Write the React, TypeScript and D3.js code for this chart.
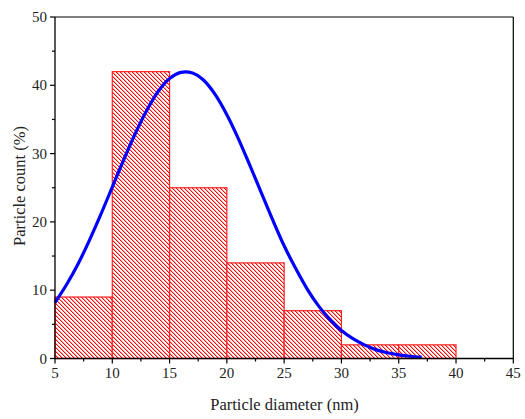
import React from "react";
import * as d3 from "d3";

const binStarts = [5, 10, 15, 20, 25, 30, 35];
const binWidth = 5;
const binCounts = [9, 42, 25, 14, 7, 2, 2];

const fitX = [5, 6, 7, 8, 9, 10, 11, 12, 13, 14, 15, 16, 17, 18, 19, 20, 21, 22, 23, 24, 25, 26, 27, 28, 29, 30, 31, 32, 33, 34, 35, 36, 37];
const fitY = [8.2, 10.8, 13.8, 17.3, 21.1, 25.1, 29.1, 32.9, 36.3, 39.1, 41.0, 41.9, 41.8, 40.7, 38.6, 35.7, 32.2, 28.3, 24.3, 20.3, 16.5, 13.2, 10.2, 7.7, 5.7, 4.1, 2.9, 2.0, 1.3, 0.85, 0.54, 0.33, 0.2];

const xTicks = [5, 10, 15, 20, 25, 30, 35, 40, 45];
const xMinor = [7.5, 12.5, 17.5, 22.5, 27.5, 32.5, 37.5, 42.5];
const yTicks = [0, 10, 20, 30, 40, 50];
const yMinor = [5, 15, 25, 35, 45];

const hatchSteps = [0, 1, 2, 3];

export default function App() {
  const W = 525, H = 419;
  const x = d3.scaleLinear().domain([5, 45]).range([55, 513.3]);
  const y = d3.scaleLinear().domain([0, 50]).range([358.5, 17]);
  const line = d3
    .line<number>()
    .x((_, i) => x(fitX[i]))
    .y((d) => y(d))
    .curve(d3.curveCatmullRom);
  const font = "'Liberation Serif', 'DejaVu Serif', serif";
  return (
    <svg width={W} height={H} style={{ position: "absolute", left: 0, top: 0, background: "#fff" }}>
      <defs>
        <pattern id="hatch" patternUnits="userSpaceOnUse" x={0} y={0} width={4} height={4}>
          <rect x={0} y={0} width={4} height={4} fill="#fff" />
          {hatchSteps.map((i) => (
            <g key={i}>
              <rect x={i} y={i} width={1} height={1} fill="#ff0000" shapeRendering="crispEdges" />
              <rect x={(i + 1) % 4} y={i} width={1} height={1} fill="#ff0000" opacity={0.35} shapeRendering="crispEdges" />
            </g>
          ))}
        </pattern>
      </defs>
      {binStarts.map((s, i) => (
        <rect
          key={i}
          x={x(s)}
          y={y(binCounts[i])}
          width={x(s + binWidth) - x(s)}
          height={y(0) - y(binCounts[i])}
          fill="url(#hatch)"
          stroke="#ff2020"
          strokeWidth={1.2}
        />
      ))}
      <path d={line(fitY) || ""} fill="none" stroke="#0000ff" strokeWidth={3.2} />
      {/* frame */}
      <line x1={x(5)} x2={x(45)} y1={y(50)} y2={y(50)} stroke="#000" strokeWidth={1.2} />
      <line x1={x(45)} x2={x(45)} y1={y(50)} y2={y(0)} stroke="#000" strokeWidth={1.2} />
      <line x1={x(5)} x2={x(45)} y1={y(0)} y2={y(0)} stroke="#000" strokeWidth={1.3} />
      <line x1={x(5)} x2={x(5)} y1={y(50)} y2={y(0)} stroke="#000" strokeWidth={1.3} />
      {xTicks.map((t) => (
        <g key={"xt" + t}>
          <line x1={x(t)} x2={x(t)} y1={y(0)} y2={y(0) + 5} stroke="#000" strokeWidth={1.2} />
          <text x={x(t)} y={377.5} textAnchor="middle" fontFamily={font} fontSize={15} fill="#222">
            {t}
          </text>
        </g>
      ))}
      {xMinor.map((t) => (
        <line key={"xm" + t} x1={x(t)} x2={x(t)} y1={y(0)} y2={y(0) + 3} stroke="#000" strokeWidth={1.2} />
      ))}
      {yTicks.map((t) => (
        <g key={"yt" + t}>
          <line x1={x(5) - 5} x2={x(5)} y1={y(t)} y2={y(t)} stroke="#000" strokeWidth={1.2} />
          <text x={47} y={y(t) + 5} textAnchor="end" fontFamily={font} fontSize={15} fill="#222">
            {t}
          </text>
        </g>
      ))}
      {yMinor.map((t) => (
        <line key={"ym" + t} x1={x(5) - 3} x2={x(5)} y1={y(t)} y2={y(t)} stroke="#000" strokeWidth={1.2} />
      ))}
      <text x={284.5} y={409.5} textAnchor="middle" fontFamily={font} fontSize={16.5} fill="#222">
        Particle diameter (nm)
      </text>
      <text
        transform={`translate(25, 186) rotate(-90)`}
        textAnchor="middle"
        fontFamily={font}
        fontSize={16.5}
        fill="#222"
      >
        Particle count (%)
      </text>
    </svg>
  );
}
